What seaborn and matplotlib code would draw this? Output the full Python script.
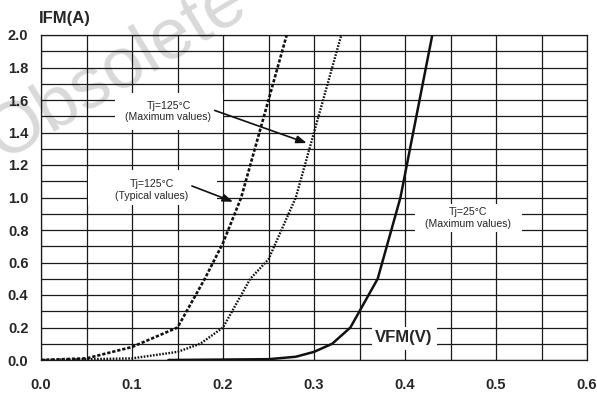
import matplotlib
matplotlib.use("Agg")
import matplotlib.pyplot as plt
import seaborn as sns
import pandas as pd
import numpy as np
from matplotlib.patches import Rectangle
from matplotlib.ticker import MultipleLocator

# ---- data ----
vf_typ125 = [0.0, 0.05, 0.10, 0.15, 0.18, 0.20, 0.22, 0.25, 0.27]
if_typ125 = [0.0, 0.01, 0.08, 0.20, 0.50, 0.72, 1.00, 1.60, 2.00]

vf_max125 = [0.0, 0.10, 0.15, 0.175, 0.20, 0.23, 0.25, 0.28, 0.30, 0.33]
if_max125 = [0.0, 0.01, 0.05, 0.10, 0.20, 0.50, 0.62, 1.00, 1.40, 2.00]

vf_max25 = [0.14, 0.25, 0.28, 0.30, 0.32, 0.34, 0.37, 0.395, 0.43]
if_max25 = [0.0, 0.005, 0.02, 0.05, 0.10, 0.20, 0.50, 1.00, 2.00]

x_ticks = [0.0, 0.1, 0.2, 0.3, 0.4, 0.5, 0.6]
y_ticks = [0.0, 0.2, 0.4, 0.6, 0.8, 1.0, 1.2, 1.4, 1.6, 1.8, 2.0]

label_max125 = "Tj=125°C\n(Maximum values)"
label_typ125 = "Tj=125°C\n(Typical values)"
label_max25 = "Tj=25°C\n(Maximum values)"
x_title = "VFM(V)"
y_title = "IFM(A)"
watermark = "Obsolete"

# ---- style ----
sns.set_style("white")
plt.rcParams["font.family"] = ["Liberation Sans", "DejaVu Sans"]

fig = plt.figure(figsize=(5.97, 3.94), dpi=100)
ax = fig.add_axes([41 / 597, 1 - 360 / 394, 546 / 597, 325 / 394])
ax.patch.set_alpha(0)

# watermark (partly off the top-left edge, as in the reference)
fig.text(117 / 597, 1 - 70 / 394, watermark, rotation=31, fontsize=52,
         color="#d9d9d9", ha="center", va="center", zorder=-5,
         rotation_mode="anchor")

df_typ = pd.DataFrame({"VF": vf_typ125, "IF": if_typ125})
df_m125 = pd.DataFrame({"VF": vf_max125, "IF": if_max125})
df_m25 = pd.DataFrame({"VF": vf_max25, "IF": if_max25})

sns.lineplot(data=df_typ, x="VF", y="IF", ax=ax, color="#111111", lw=1.9,
             sort=False, estimator=None, zorder=5)
ax.lines[-1].set_dashes([1.25, 0.7])
sns.lineplot(data=df_m125, x="VF", y="IF", ax=ax, color="#111111", lw=1.7,
             sort=False, estimator=None, zorder=5)
ax.lines[-1].set_dashes([0.7, 0.62])
sns.lineplot(data=df_m25, x="VF", y="IF", ax=ax, color="#111111", lw=1.8,
             sort=False, estimator=None, zorder=5)

ax.set_xlim(0, 0.6)
ax.set_ylim(0, 2.0)
ax.xaxis.set_major_locator(MultipleLocator(0.1))
ax.xaxis.set_minor_locator(MultipleLocator(0.05))
ax.yaxis.set_major_locator(MultipleLocator(0.2))
ax.yaxis.set_minor_locator(MultipleLocator(0.1))
ax.set_xticks(x_ticks)
ax.set_yticks(y_ticks)
ax.set_xticklabels([f"{v:.1f}" for v in x_ticks])
ax.set_yticklabels([f"{v:.1f}" for v in y_ticks])
ax.grid(True, which="both", color="#1a1a1a", lw=0.9)
ax.set_axisbelow(True)
ax.tick_params(which="both", length=0)
ax.tick_params(axis="x", pad=13)
ax.tick_params(axis="y", pad=9)
for lab in ax.get_xticklabels() + ax.get_yticklabels():
    lab.set_fontweight("bold")
    lab.set_fontsize(10.5)
for s in ax.spines.values():
    s.set_color("#1a1a1a")
    s.set_linewidth(0.9)
ax.set_xlabel("")
ax.set_ylabel("")

# white boxes that clear the grid behind the labels
boxes = [(0.0813, 1.415, 0.2 - 0.0813, 1.643 - 1.415),
         (0.0516, 0.954, 0.1934 - 0.0516, 1.169 - 0.954),
         (0.411, 0.79, 0.5286 - 0.411, 0.17),
         (0.3637, 0.0615, 0.435 - 0.3637, 0.203 - 0.0615)]
for (bx, by, bw, bh) in boxes:
    ax.add_patch(Rectangle((bx, by), bw, bh, facecolor="white",
                           edgecolor="none", zorder=2))

tk = dict(fontsize=7.6, ha="center", va="center", zorder=6,
          linespacing=1.15)
ax.annotate(label_max125, xy=(0.292, 1.335), xytext=(0.14, 1.53),
            arrowprops=dict(arrowstyle="-|>,head_length=0.8,head_width=0.3",
                            color="#111111", lw=1.2, shrinkA=0, shrinkB=0,
                            relpos=(1.0, 0.6)),
            **tk)
ax.annotate(label_typ125, xy=(0.211, 0.974), xytext=(0.122, 1.046),
            arrowprops=dict(arrowstyle="-|>,head_length=0.8,head_width=0.3",
                            color="#111111", lw=1.2, shrinkA=0, shrinkB=0,
                            relpos=(1.0, 0.75)),
            **tk)
ax.text(0.469, 0.874, label_max25, **tk)
ax.text(0.398, 0.1415, x_title, fontsize=12, fontweight="bold",
        ha="center", va="center", zorder=6)
fig.text(39 / 597, 1 - 19 / 394, y_title, fontsize=12, fontweight="bold",
         ha="left", va="center")

fig.savefig("out.png", dpi=100)
